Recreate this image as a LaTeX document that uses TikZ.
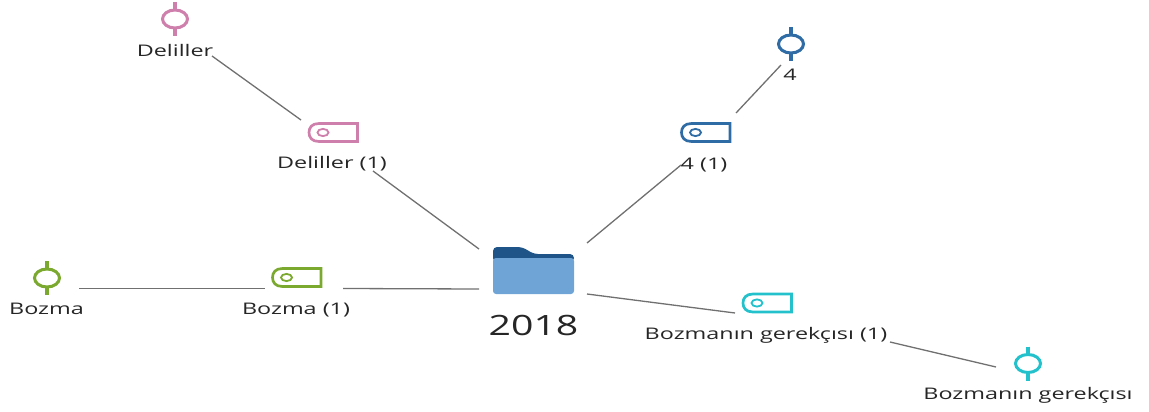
\documentclass[tikz,border=0pt]{standalone}
\usepackage{fontspec}
\setmainfont{Open Sans}
\definecolor{cpink}{HTML}{CF7FAB}
\definecolor{cblue}{HTML}{2F6CA6}
\definecolor{cgreen}{HTML}{7BA92F}
\definecolor{ccyan}{HTML}{22C1CC}
\definecolor{cdark}{HTML}{1F5488}
\definecolor{cbody}{HTML}{6FA5D6}
\definecolor{cline}{HTML}{707070}
\tikzset{
  lbl/.style={inner sep=0pt,text=black!85,font=\fontsize{16}{19}\selectfont,xscale=1.46,transform shape},
  link/.style={draw=cline,line width=1.3pt},
  pin/.pic={
    \draw[line width=3.4pt,pic actions] (0,-17) -- (0,-9) (0,9) -- (0,17);
    \draw[line width=3pt,pic actions] (0,0) ellipse [x radius=12.5,y radius=9];
  },
  tagicon/.pic={
    \draw[line width=2.7pt,pic actions] (24.5,-9) -- (24.5,9) -- (-14,9)
      .. controls (-21,9) and (-24,5) .. (-24,0)
      .. controls (-24,-5) and (-21,-9) .. (-14,-9) -- cycle;
    \draw[line width=1.8pt,pic actions] (-10,0) ellipse [x radius=5.5,y radius=3.6];
  }
}
\begin{document}
\begin{tikzpicture}[x=1pt,y=-1pt]
\useasboundingbox (0,0) rectangle (1149,412);
% folder
\node[inner sep=0pt,minimum width=81pt,minimum height=47pt] (folder) at (533.5,270.5) {};
\fill[cdark,rounded corners=4pt] (493,262) -- (493,247) -- (522,247) -- (534,254) -- (574,254) -- (574,262) -- cycle;
\fill[cbody,rounded corners=3pt] (493,258) -- (574,258) -- (574,294) -- (493,294) -- cycle;
\node[lbl,font=\fontsize{28}{32}\selectfont,xscale=0.96] (year) at (533.5,325) {2018};
% pins and tags
\path (175,19) pic[draw=cpink] {pin};
\path (333,132.5) pic[draw=cpink] {tagicon};
\path (791,44) pic[draw=cblue] {pin};
\path (705.5,132.5) pic[draw=cblue] {tagicon};
\path (47,278) pic[draw=cgreen] {pin};
\path (296.5,277.5) pic[draw=cgreen] {tagicon};
\path (767,303) pic[draw=ccyan] {tagicon};
\path (1028,363.5) pic[draw=ccyan] {pin};
% labels
\node[lbl] (pinA) at (175,51) {Deliller};
\node[lbl] (tagA) at (332,164) {Deliller (1)};
\node[lbl] (pinB) at (790,75) {4};
\node[lbl] (tagB) at (704,165) {4 (1)};
\node[lbl] (pinC) at (46.5,309) {Bozma};
\node[lbl] (tagC) at (296,310) {Bozma (1)};
\node[lbl] (tagD) at (766,335) {Bozmanın gerekçısı (1)};
\node[lbl] (pinD) at (1028,395) {Bozmanın gerekçısı};
% connector ends
\coordinate (a1) at (212,56); \coordinate (a2) at (301,120);
\coordinate (a3) at (373,171); \coordinate (f1) at (479,249);
\coordinate (b1) at (781,65); \coordinate (b2) at (736,113);
\coordinate (b3) at (681,165); \coordinate (f2) at (587,243);
\coordinate (c1) at (79,288.5); \coordinate (c2) at (265,288.5);
\coordinate (c3) at (343,288.5); \coordinate (f3) at (479,289);
\coordinate (f4) at (587,294); \coordinate (d1) at (735,313);
\coordinate (d2) at (890,342); \coordinate (d3) at (996,367);
\draw[link] (a1) -- (a2);
\draw[link] (a3) -- (f1);
\draw[link] (b1) -- (b2);
\draw[link] (b3) -- (f2);
\draw[link] (c1) -- (c2);
\draw[link] (c3) -- (f3);
\draw[link] (f4) -- (d1);
\draw[link] (d2) -- (d3);
\end{tikzpicture}
\end{document}
